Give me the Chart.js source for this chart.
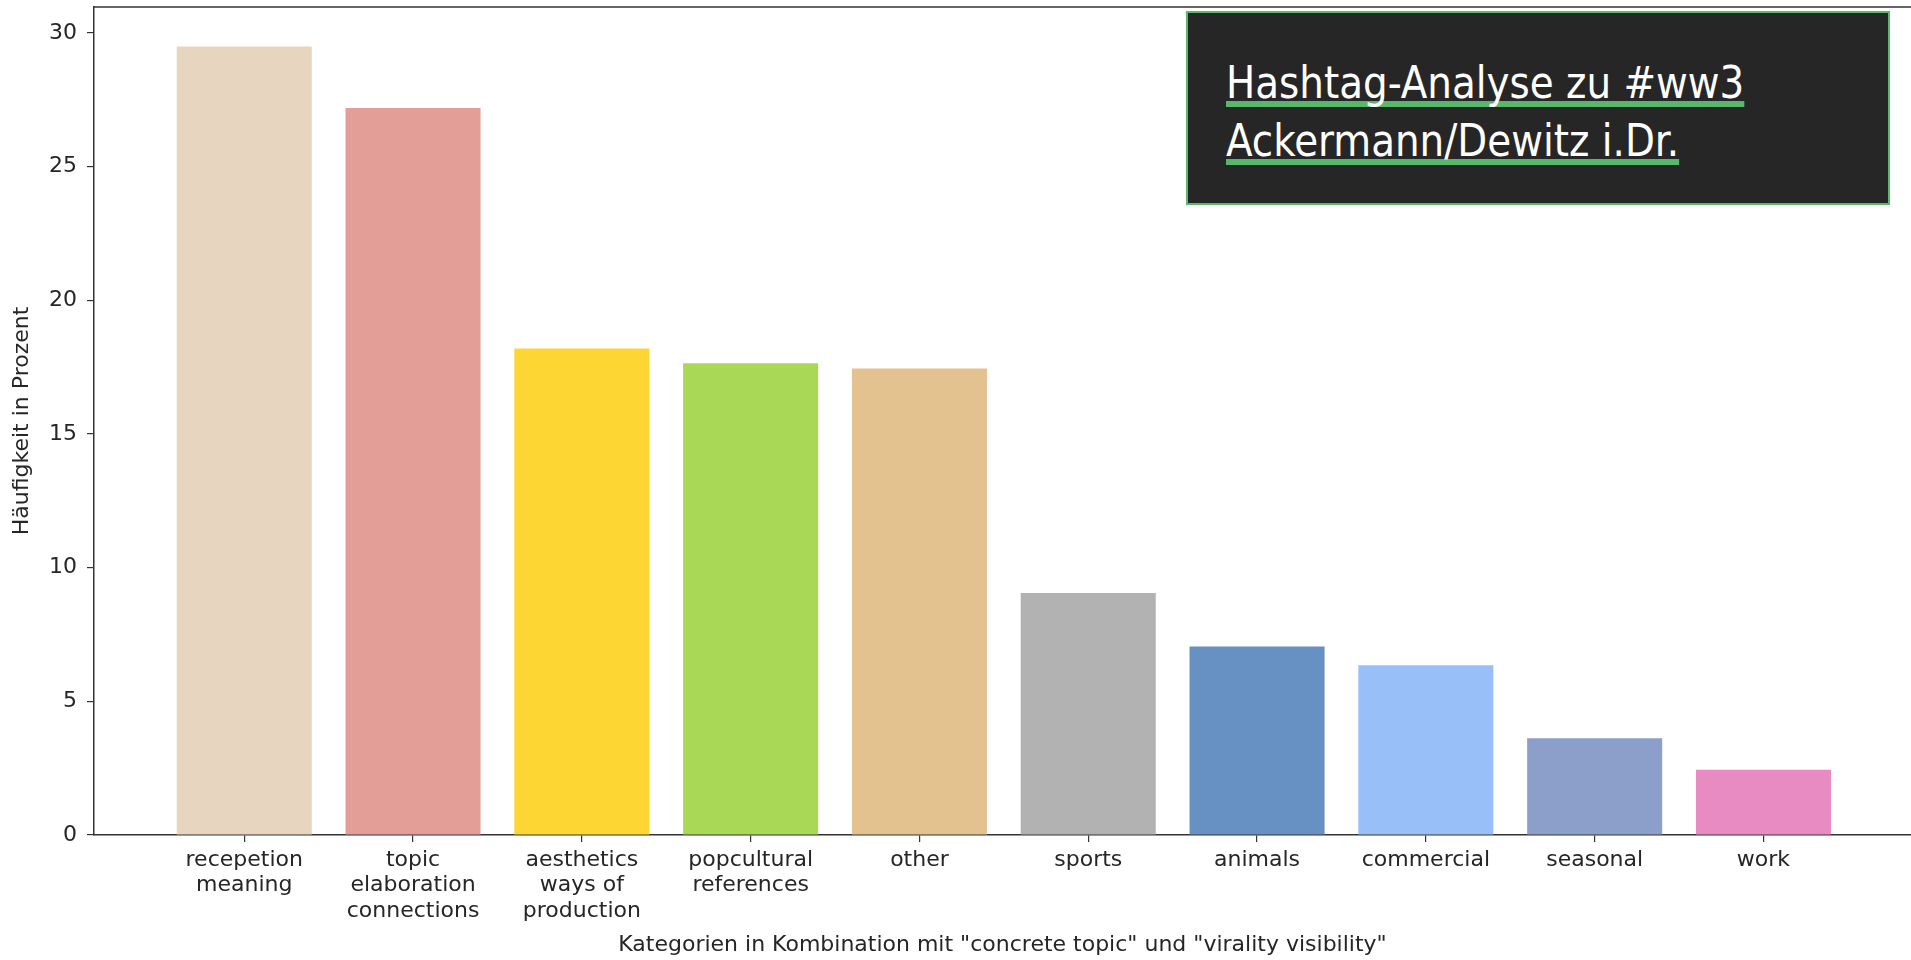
<!DOCTYPE html>
<html>
<head>
<meta charset="utf-8">
<script src="https://cdn.jsdelivr.net/npm/chart.js@4.4.1/dist/chart.umd.min.js"></script>
<style>
  html, body { margin: 0; padding: 0; background: #fff; }
  #wrap { position: relative; width: 1911px; height: 960px; overflow: hidden; }
  #badge {
    position: absolute; left: 1186px; top: 11px; width: 704px; height: 194px;
    box-sizing: border-box; background: #262626; border: 2px solid #5bb86c;
    padding: 41px 0 0 38px;
    font-family: "Liberation Sans Narrow", "DejaVu Sans Condensed", sans-serif;
    font-size: 45px; line-height: 58px; color: #fff;
  }
  #badge div { transform: scaleX(0.96); transform-origin: left top; white-space: nowrap; }
  #badge span {
    text-decoration: underline; text-decoration-color: #57b86b;
    text-decoration-thickness: 6px; text-underline-offset: 3px;
    text-decoration-skip-ink: none;
  }
</style>
</head>
<body>
<div id="wrap">
  <canvas id="chart1" width="1911" height="960"></canvas>
  <div id="badge"><div><span>Hashtag-Analyse zu #ww3</span><br><span>Ackermann/Dewitz i.Dr.</span></div></div>
</div>
<script>
// categories (multi-line tick labels as in the original)
const categories = [
  ['recepetion', 'meaning'],
  ['topic', 'elaboration', 'connections'],
  ['aesthetics', 'ways of', 'production'],
  ['popcultural', 'references'],
  'other', 'sports', 'animals', 'commercial', 'seasonal', 'work'
];
// share in percent
const shares = [29.5, 27.2, 18.2, 17.65, 17.45, 9.05, 7.05, 6.35, 3.62, 2.44];
const barColors = [
  '#e8d5c0', '#e39e98', '#fdd634', '#a8d855', '#e3c290',
  '#b2b2b2', '#6790c3', '#99bff8', '#8c9fca', '#e88bc3'
];
const yTicks = [0, 5, 10, 15, 20, 25, 30];

Chart.defaults.font.family = 'DejaVu Sans';
Chart.defaults.font.size = 22;
Chart.defaults.color = '#262626';

// matplotlib-style top spine
const topSpine = {
  id: 'topSpine',
  afterDraw(chart) {
    const { ctx, chartArea } = chart;
    ctx.save();
    ctx.strokeStyle = '#333';
    ctx.lineWidth = 1.5;
    ctx.beginPath();
    ctx.moveTo(chartArea.left, chartArea.top);
    ctx.lineTo(chartArea.right, chartArea.top);
    ctx.stroke();
    ctx.restore();
  }
};

new Chart(document.getElementById('chart1'), {
  type: 'bar',
  data: {
    datasets: [{
      data: shares.map((v, i) => ({ x: i, y: v })),
      backgroundColor: barColors,
      borderWidth: 0,
      categoryPercentage: 1,
      barPercentage: 0.8
    }]
  },
  options: {
    responsive: false,
    animation: false,
    layout: { padding: { top: 7, right: 0, left: 0, bottom: 0 } },
    plugins: { legend: { display: false }, tooltip: { enabled: false } },
    scales: {
      x: {
        type: 'linear',
        min: -0.89,
        max: 9.874,
        offset: false,
        afterBuildTicks: scale => { scale.ticks = categories.map((c, i) => ({ value: i })); },
        afterFit: scale => { scale.height = 125; scale.paddingLeft = 0; scale.paddingRight = 0; },
        ticks: {
          autoSkip: false, maxRotation: 0, minRotation: 0, padding: 5,
          font: { size: 22, lineHeight: 1.17 },
          callback: value => categories[value]
        },
        grid: { offset: false, drawOnChartArea: false, drawTicks: true, tickLength: 7, color: '#333', lineWidth: 1.2 },
        border: { display: true, color: '#333', width: 1.5 },
        title: {
          display: true,
          text: 'Kategorien in Kombination mit "concrete topic" und "virality visibility"',
          font: { size: 22 },
          padding: { top: 0, bottom: 2 }
        }
      },
      y: {
        min: 0,
        max: 30.975,
        afterBuildTicks: scale => { scale.ticks = yTicks.map(v => ({ value: v })); },
        afterFit: scale => { scale.width = 94; scale.paddingTop = 0; scale.paddingBottom = 0; },
        ticks: { padding: 10, font: { size: 22 } },
        grid: { drawOnChartArea: false, drawTicks: true, tickLength: 7, color: '#333', lineWidth: 1.2 },
        border: { display: true, color: '#333', width: 1.5 },
        title: {
          display: true,
          text: 'Häufigkeit in Prozent',
          font: { size: 22 },
          padding: { top: 9, bottom: 0 }
        }
      }
    }
  },
  plugins: [topSpine]
});
</script>
</body>
</html>
